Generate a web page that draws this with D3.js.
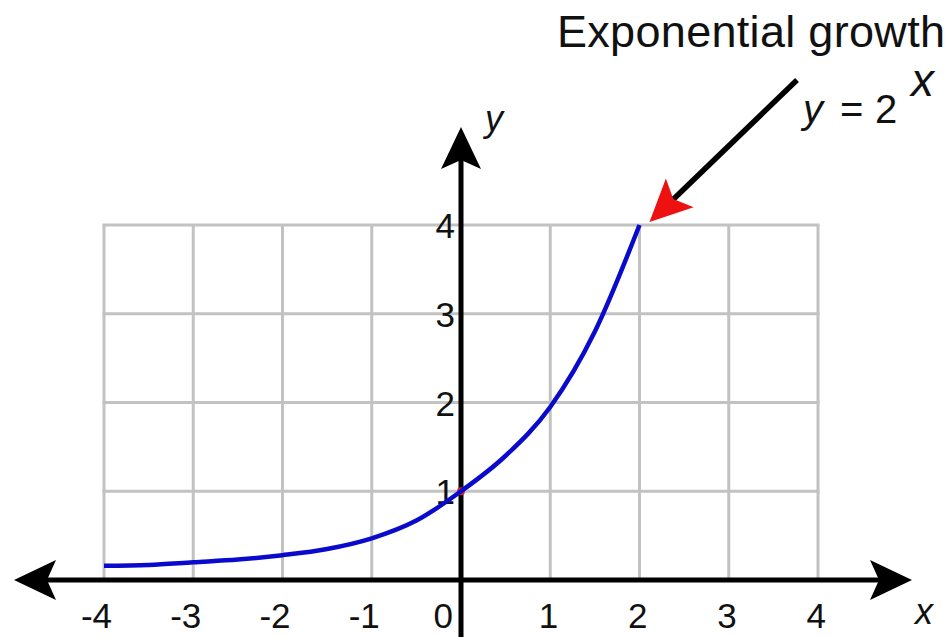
<!DOCTYPE html>
<html>
<head>
<meta charset="utf-8">
<script src="https://cdn.jsdelivr.net/npm/d3@7"></script>
<style>
  html, body { margin: 0; padding: 0; background: #fff; }
  svg text { font-family: "Liberation Sans", Arial, Helvetica, sans-serif; fill: #111; }
</style>
</head>
<body>
<div id="chart"></div>
<script>
// values
const xTicks = [-4, -3, -2, -1, 0, 1, 2, 3, 4];
const yTicks = [1, 2, 3, 4];
const curveX = [-4, -3.5, -3, -2.5, -2, -1.5, -1, -0.5, 0, 0.5, 1, 1.5, 2];
const curveY = [0.16, 0.17, 0.2, 0.23, 0.28, 0.35, 0.47, 0.67, 1.0, 1.4, 1.95, 2.8, 4.0];
const title = "Exponential growth";

const width = 951, height = 637;
const svg = d3.select("#chart").append("svg")
  .attr("width", width)
  .attr("height", height);

const x = d3.scaleLinear().domain([-4, 4]).range([104, 818]);
const y = d3.scaleLinear().domain([0, 4]).range([580, 225]);

// grid
const grid = svg.append("g").attr("stroke", "#c2c2c2").attr("stroke-width", 3);
grid.selectAll(".vgrid")
  .data(xTicks)
  .join("line")
  .attr("x1", d => x(d)).attr("x2", d => x(d))
  .attr("y1", y(0)).attr("y2", y(4));
grid.selectAll(".hgrid")
  .data(yTicks)
  .join("line")
  .attr("x1", x(-4) - 1.5).attr("x2", x(4) + 1.5)
  .attr("y1", d => y(d)).attr("y2", d => y(d));

function arrowHead(g, tx, ty, angle, fill) {
  g.append("path")
    .attr("d", "M0,0 L-42,-20 L-33,0 L-42,20 Z")
    .attr("fill", fill)
    .attr("transform", `translate(${tx},${ty}) rotate(${angle})`);
}

// axes
const axes = svg.append("g");
axes.append("line")
  .attr("x1", x(-4) - 80).attr("x2", x(4) + 84)
  .attr("y1", y(0)).attr("y2", y(0))
  .attr("stroke", "#000").attr("stroke-width", 5);
axes.append("line")
  .attr("x1", x(0)).attr("x2", x(0))
  .attr("y1", height + 5).attr("y2", y(4) - 88)
  .attr("stroke", "#000").attr("stroke-width", 5);
arrowHead(axes, x(-4) - 90, y(0), 180, "#000");
arrowHead(axes, x(4) + 94, y(0), 0, "#000");
arrowHead(axes, x(0), y(4) - 98, -90, "#000");

// tick labels
svg.append("g").selectAll("text")
  .data(xTicks)
  .join("text")
  .attr("x", d => x(d) + (d === 0 ? -8 : 8))
  .attr("y", 628)
  .attr("text-anchor", "end")
  .attr("font-size", 35)
  .text(d => d);
svg.append("g").selectAll("text")
  .data(yTicks)
  .join("text")
  .attr("x", x(0) - 6)
  .attr("y", d => y(d) + 13)
  .attr("text-anchor", "end")
  .attr("font-size", 35)
  .text(d => d);

// axis names
svg.append("text")
  .attr("x", x(4) + 97).attr("y", 624)
  .attr("font-size", 36).attr("font-style", "italic")
  .text("x");
svg.append("text")
  .attr("x", x(0) + 24).attr("y", 131)
  .attr("font-size", 36).attr("font-style", "italic")
  .text("y");

// curve
const pts = curveX.map((d, i) => [d, curveY[i]]);
svg.append("circle")
  .attr("cx", x(0)).attr("cy", y(1)).attr("r", 4)
  .attr("fill", "#e02020");
svg.append("path")
  .datum(pts)
  .attr("fill", "none")
  .attr("stroke", "#0a0acc")
  .attr("stroke-width", 4.5)
  .attr("d", d3.line().x(d => x(d[0])).y(d => y(d[1])).curve(d3.curveMonotoneX));

// annotation
svg.append("text")
  .attr("x", 557).attr("y", 47)
  .attr("font-size", 45)
  .attr("textLength", 388)
  .text(title);
const eq = svg.append("text")
  .attr("y", 123)
  .attr("font-size", 40);
eq.append("tspan").attr("x", 803).attr("font-style", "italic").text("y");
eq.append("tspan").attr("x", 840).text("=");
eq.append("tspan").attr("x", 875).text("2");
svg.append("text")
  .attr("x", 911).attr("y", 96)
  .attr("font-size", 46).attr("font-style", "italic")
  .text("x");

const tip = [x(2) + 10, y(4) - 3];
svg.append("line")
  .attr("x1", 797).attr("y1", 80)
  .attr("x2", tip[0] + 20).attr("y2", tip[1] - 19)
  .attr("stroke", "#000").attr("stroke-width", 5.5);
const ang = Math.atan2(tip[1] - 80, tip[0] - 797) * 180 / Math.PI;
arrowHead(svg, tip[0], tip[1], ang, "#ee1111");
</script>
</body>
</html>
